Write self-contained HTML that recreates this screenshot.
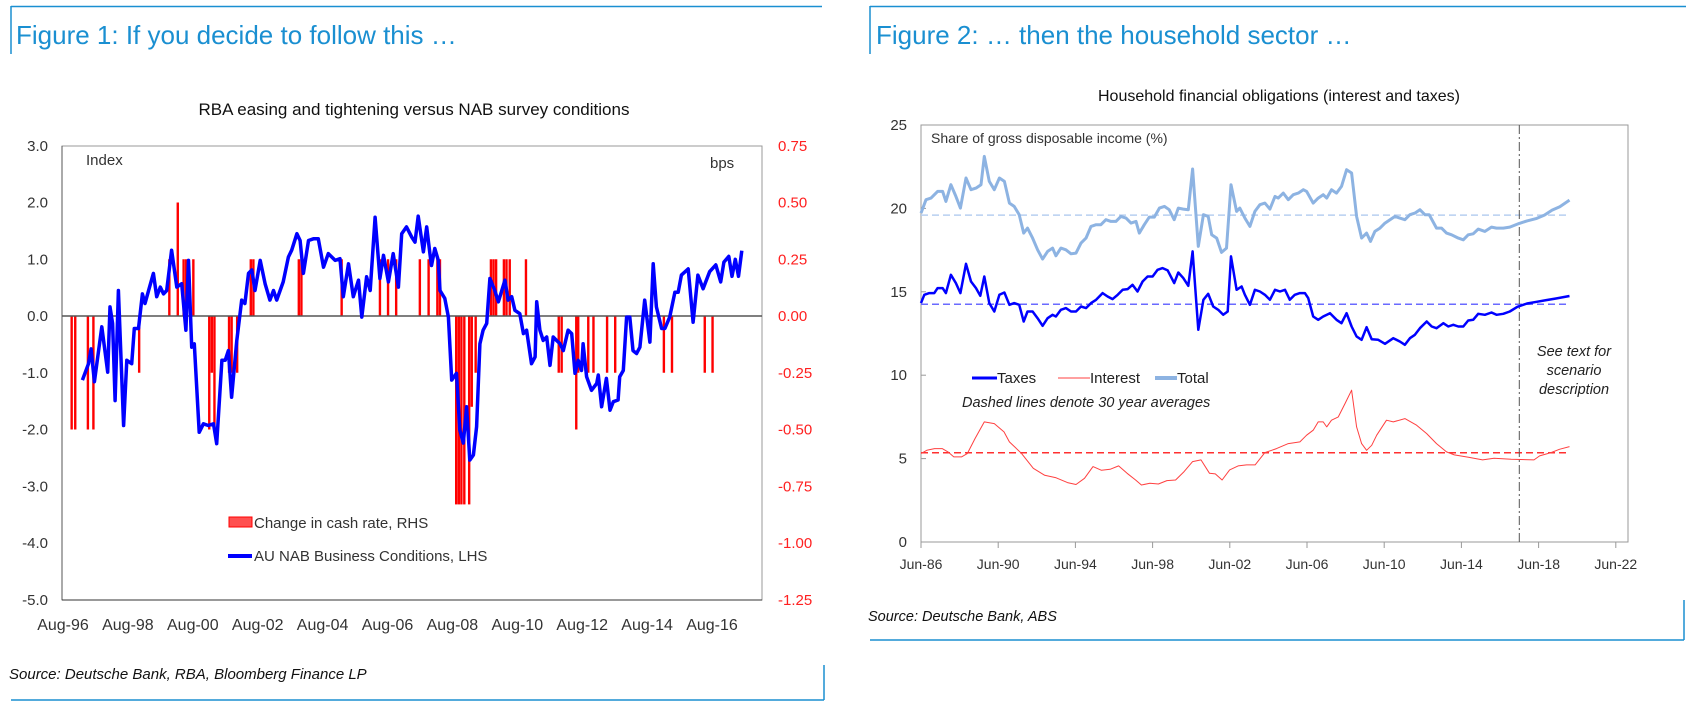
<!DOCTYPE html>
<html><head><meta charset="utf-8"><style>
html,body{margin:0;padding:0;background:#fff;}
svg{display:block;}
text{font-family:"Liberation Sans",sans-serif;}
.nar{font-family:"Liberation Sans Narrow","Liberation Sans",sans-serif;}
</style></head><body>
<svg id="svg" width="1692" height="705" viewBox="0 0 1692 705" xmlns="http://www.w3.org/2000/svg">
<g>
<line x1="11" y1="6.5" x2="822" y2="6.5" stroke="#1a8fd1" stroke-width="1.5"/>
<line x1="11" y1="6" x2="11" y2="54" stroke="#1a8fd1" stroke-width="1.5"/>
<text x="16" y="44" font-size="26" fill="#1a8fd1">Figure 1: If you decide to follow this …</text>
<text x="414" y="115" font-size="17" fill="#111" text-anchor="middle">RBA easing and tightening versus NAB survey conditions</text>
<rect x="62" y="146" width="700" height="454" fill="none" stroke="#999" stroke-width="1"/>
<line x1="62" y1="146" x2="62" y2="600" stroke="#555"/>
<line x1="62" y1="600" x2="762" y2="600" stroke="#333"/>
<text x="86" y="165" font-size="15" fill="#333">Index</text>
<text x="710" y="168" font-size="15" fill="#333">bps</text>
<g id="c1"></g>
<rect x="229" y="517" width="23" height="10" fill="#ff5050" stroke="#ff0000"/>
<text x="254" y="528" font-size="15" fill="#333" class="nar">Change in cash rate, RHS</text>
<line x1="228" y1="556" x2="252" y2="556" stroke="#0000ff" stroke-width="4"/>
<text x="254" y="561" font-size="15" fill="#333" class="nar">AU NAB Business Conditions, LHS</text>
<text x="9" y="679" font-size="15" font-style="italic" fill="#111" class="nar">Source: Deutsche Bank, RBA, Bloomberg Finance LP</text>
<line x1="11" y1="700" x2="824" y2="700" stroke="#1a8fd1" stroke-width="1.5"/>
<line x1="824" y1="665" x2="824" y2="700" stroke="#1a8fd1" stroke-width="1.5"/>
</g>
<g>
<line x1="870" y1="6.5" x2="1686" y2="6.5" stroke="#1a8fd1" stroke-width="1.5"/>
<line x1="870" y1="6" x2="870" y2="54" stroke="#1a8fd1" stroke-width="1.5"/>
<text x="876" y="44" font-size="26" fill="#1a8fd1">Figure 2: … then the household sector …</text>
<text x="1279" y="101" font-size="16" fill="#111" text-anchor="middle">Household financial obligations (interest and taxes)</text>
<rect x="921" y="125" width="707" height="417" fill="none" stroke="#999"/>
<text x="931" y="143" font-size="14" fill="#333">Share of gross disposable income (%)</text>
<g id="c2"></g>
<line x1="972" y1="378" x2="997" y2="378" stroke="#0000ff" stroke-width="3"/>
<text x="997" y="383" font-size="15" fill="#222">Taxes</text>
<line x1="1058" y1="378" x2="1090" y2="378" stroke="#ff4040" stroke-width="1"/>
<text x="1090" y="383" font-size="15" fill="#222">Interest</text>
<line x1="1155" y1="378" x2="1177" y2="378" stroke="#8db3e2" stroke-width="4"/>
<text x="1177" y="383" font-size="15" fill="#222">Total</text>
<text x="962" y="407" font-size="14.5" font-style="italic" fill="#222">Dashed lines denote 30 year averages</text>
<text font-size="14.5" font-style="italic" fill="#222" text-anchor="middle"><tspan x="1574" y="356">See text for</tspan><tspan x="1574" y="375">scenario</tspan><tspan x="1574" y="394">description</tspan></text>
<text x="868" y="621" font-size="14.5" font-style="italic" fill="#111">Source: Deutsche Bank, ABS</text>
<line x1="870" y1="640" x2="1684" y2="640" stroke="#1a8fd1" stroke-width="1.5"/>
<line x1="1684" y1="600" x2="1684" y2="640" stroke="#1a8fd1" stroke-width="1.5"/>
</g>
</svg>
<script>
// ---------- Chart 1 data ----------
const nabYears=[1997.18,1997.37,1997.45,1997.55,1997.78,1997.96,1998.03,1998.11,1998.19,1998.29,1998.45,1998.55,1998.70,1998.78,1998.91,1999.03,1999.11,1999.22,1999.37,1999.47,1999.58,1999.68,1999.78,1999.93,2000.09,2000.24,2000.37,2000.45,2000.55,2000.63,2000.78,2000.91,2001.06,2001.22,2001.32,2001.48,2001.58,2001.68,2001.78,2001.94,2002.09,2002.19,2002.30,2002.40,2002.50,2002.66,2002.81,2002.96,2003.07,2003.17,2003.37,2003.53,2003.63,2003.79,2003.89,2003.99,2004.15,2004.30,2004.45,2004.61,2004.76,2004.97,2005.12,2005.22,2005.38,2005.53,2005.69,2005.79,2005.94,2006.05,2006.20,2006.35,2006.46,2006.61,2006.76,2006.92,2007.02,2007.17,2007.33,2007.43,2007.53,2007.69,2007.79,2007.89,2007.94,2008.04,2008.15,2008.20,2008.35,2008.46,2008.56,2008.71,2008.81,2008.92,2009.02,2009.12,2009.23,2009.33,2009.43,2009.53,2009.64,2009.74,2009.89,2010.00,2010.20,2010.30,2010.41,2010.51,2010.66,2010.77,2010.87,2011.02,2011.13,2011.18,2011.28,2011.38,2011.49,2011.59,2011.69,2011.79,2011.90,2012.00,2012.15,2012.26,2012.36,2012.46,2012.56,2012.61,2012.72,2012.87,2013.03,2013.08,2013.18,2013.33,2013.44,2013.54,2013.69,2013.74,2013.85,2013.95,2014.05,2014.15,2014.26,2014.36,2014.51,2014.67,2014.77,2014.87,2015.03,2015.13,2015.28,2015.44,2015.54,2015.64,2015.85,2016.00,2016.15,2016.31,2016.51,2016.70,2016.85,2016.95,2017.10,2017.20,2017.30,2017.40,2017.50];
const nabValues=[-1.13,-0.84,-0.58,-1.16,-0.19,-0.99,0.16,-0.13,-1.49,0.45,-1.93,-0.78,-0.84,-0.22,-0.22,0.39,0.22,0.45,0.75,0.34,0.51,0.39,0.45,1.16,0.51,0.57,-0.25,0.98,-0.55,-0.49,-2.05,-1.90,-1.93,-1.90,-2.25,-0.78,-0.78,-0.61,-1.43,-0.43,0.28,0.22,0.75,0.81,0.45,0.98,0.57,0.28,0.45,0.28,0.60,1.04,1.16,1.45,1.33,0.75,1.33,1.36,1.36,0.86,1.10,0.98,1.01,0.34,0.92,0.34,0.63,-0.02,0.69,0.45,1.74,0.66,1.07,0.60,1.10,0.51,1.45,1.57,1.39,1.30,1.76,1.13,1.57,1.10,0.89,1.19,0.98,0.45,0.31,-0.02,-1.13,-1.01,-2.01,-2.24,-1.60,-2.54,-2.45,-1.95,-0.49,-0.25,-0.13,0.66,0.45,0.25,0.63,0.28,0.34,0.10,0.04,-0.31,-0.25,-0.84,-0.72,0.25,-0.25,-0.43,-0.37,-0.87,-0.37,-0.43,-0.49,-0.61,-0.25,-0.31,-1.01,-0.78,-0.96,-0.49,-1.07,-1.31,-1.19,-1.04,-1.60,-1.10,-1.66,-1.51,-1.48,-1.07,-0.96,-0.02,-0.02,-0.61,-0.66,-0.55,0.28,-0.46,0.92,0.16,-0.22,-0.22,-0.02,0.42,0.42,0.72,0.83,-0.11,0.72,0.48,0.78,0.90,0.60,0.95,1.05,0.70,1.00,0.70,1.15];
const rateYears=[1996.85,1996.96,1997.35,1997.52,1998.93,1999.86,2000.12,2000.30,2000.38,2000.60,2001.09,2001.17,2001.25,2001.70,2001.78,2001.95,2002.37,2002.45,2003.85,2003.93,2005.17,2006.35,2006.60,2006.85,2007.58,2007.85,2008.12,2008.20,2008.70,2008.78,2008.86,2008.95,2009.10,2009.18,2009.30,2009.77,2009.85,2009.93,2010.17,2010.25,2010.35,2010.85,2011.86,2011.95,2012.40,2012.46,2012.77,2012.93,2013.35,2013.60,2015.10,2015.35,2016.36,2016.60];
const rateValues=[-0.5,-0.5,-0.5,-0.5,-0.25,0.25,0.5,0.25,0.25,0.25,-0.5,-0.25,-0.5,-0.25,-0.25,-0.25,0.25,0.25,0.25,0.25,0.25,0.25,0.25,0.25,0.25,0.25,0.25,0.25,-0.83,-0.83,-0.83,-0.83,-0.83,-0.4,-0.25,0.25,0.25,0.25,0.25,0.25,0.25,0.25,-0.25,-0.25,-0.5,-0.25,-0.25,-0.25,-0.25,-0.25,-0.25,-0.25,-0.25,-0.25];
const leftTicks=[3,2,1,0,-1,-2,-3,-4,-5];
const leftTickLabels=["3.0","2.0","1.0","0.0","-1.0","-2.0","-3.0","-4.0","-5.0"];
const rightTickLabels=["0.75","0.50","0.25","0.00","-0.25","-0.50","-0.75","-1.00","-1.25"];
const xTickYears1=[1996.583,1998.583,2000.583,2002.583,2004.583,2006.583,2008.583,2010.583,2012.583,2014.583,2016.583];
const xTickLabels1=["Aug-96","Aug-98","Aug-00","Aug-02","Aug-04","Aug-06","Aug-08","Aug-10","Aug-12","Aug-14","Aug-16"];

// ---------- Chart 2 data ----------
const totYears=[1986.50,1986.76,1987.02,1987.36,1987.62,1987.79,1988.05,1988.31,1988.54,1988.83,1989.09,1989.35,1989.61,1989.78,1990.04,1990.30,1990.56,1990.82,1991.08,1991.33,1991.59,1991.82,1992.02,1992.28,1992.54,1992.80,1993.06,1993.32,1993.49,1993.75,1994.01,1994.27,1994.53,1994.79,1995.05,1995.31,1995.57,1995.82,1996.08,1996.34,1996.60,1996.86,1997.12,1997.38,1997.64,1997.81,1998.07,1998.33,1998.59,1998.85,1999.11,1999.36,1999.62,1999.83,2000.09,2000.35,2000.57,2000.87,2001.13,2001.38,2001.56,2001.82,2002.07,2002.33,2002.56,2002.85,2003.02,2003.28,2003.54,2003.80,2004.06,2004.32,2004.58,2004.84,2005.01,2005.27,2005.53,2005.79,2006.05,2006.31,2006.48,2006.82,2007.08,2007.34,2007.52,2007.77,2008.03,2008.29,2008.55,2008.81,2009.07,2009.33,2009.59,2009.79,2010.02,2010.28,2010.54,2010.80,2011.06,2011.31,2011.57,2011.83,2012.09,2012.35,2012.61,2012.83,2013.21,2013.47,2013.73,2013.99,2014.34,2014.60,2014.85,2015.11,2015.37,2015.72,2016.06,2016.32,2016.67,2017.01,2017.50,2017.90,2018.40,2018.80,2019.20,2019.60,2020.10];
const totValues=[19.72,20.52,20.62,21.02,21.02,20.42,21.42,20.72,20.02,21.82,21.12,21.22,21.42,23.12,21.62,21.12,21.82,21.62,20.32,20.12,19.62,18.52,18.82,18.22,17.52,16.96,17.42,17.62,17.16,17.62,17.52,17.28,17.32,17.92,18.22,18.92,19.02,19.02,19.32,19.22,19.22,19.52,19.42,19.12,19.22,18.52,19.02,19.48,19.48,20.02,20.12,19.92,19.32,20.02,19.96,19.92,22.36,17.72,19.62,19.52,18.42,18.22,17.36,17.62,21.42,19.82,20.02,19.42,18.92,19.82,20.22,20.32,19.96,20.72,20.62,20.92,20.52,20.82,20.92,21.12,21.02,20.32,20.62,20.82,20.62,21.12,20.92,21.32,22.32,22.12,19.52,18.22,18.52,18.02,18.62,18.82,19.12,19.32,19.52,19.42,19.32,19.62,19.72,19.92,19.62,19.62,18.82,18.82,18.52,18.42,18.22,18.12,18.42,18.48,18.76,18.62,18.88,18.82,18.82,18.88,19.10,19.25,19.40,19.60,19.90,20.10,20.50];
const taxYears=[1986.50,1986.67,1986.93,1987.19,1987.36,1987.62,1987.79,1988.05,1988.31,1988.54,1988.83,1989.09,1989.35,1989.57,1989.78,1990.04,1990.30,1990.56,1990.82,1991.08,1991.33,1991.59,1991.82,1992.02,1992.28,1992.54,1992.80,1993.06,1993.32,1993.49,1993.75,1994.01,1994.27,1994.53,1994.79,1995.05,1995.31,1995.57,1995.91,1996.17,1996.43,1996.69,1996.95,1997.21,1997.46,1997.72,1997.98,1998.24,1998.50,1998.76,1999.02,1999.28,1999.62,1999.83,2000.09,2000.35,2000.57,2000.87,2001.13,2001.38,2001.64,2001.90,2002.16,2002.39,2002.56,2002.85,2003.11,2003.28,2003.54,2003.80,2004.06,2004.32,2004.58,2004.84,2005.10,2005.36,2005.61,2005.87,2006.13,2006.39,2006.56,2006.82,2007.08,2007.34,2007.69,2008.03,2008.29,2008.55,2008.81,2009.07,2009.33,2009.59,2009.85,2010.19,2010.54,2010.97,2011.31,2011.57,2011.83,2012.09,2012.35,2012.70,2012.96,2013.21,2013.56,2013.82,2014.08,2014.34,2014.60,2014.85,2015.11,2015.37,2015.72,2016.06,2016.32,2016.67,2017.01,2017.40,2017.90,2018.40,2018.90,2019.40,2020.10];
const taxValues=[14.32,14.82,14.92,14.92,15.22,15.22,14.92,16.02,15.52,14.92,16.68,15.62,15.22,14.76,15.92,14.32,13.82,14.82,14.96,14.22,14.32,14.22,13.22,13.82,13.82,13.42,12.96,13.42,13.62,13.52,13.92,14.02,13.82,13.82,14.12,14.02,14.32,14.52,14.92,14.72,14.56,14.82,15.12,15.16,15.42,15.02,15.62,15.92,15.92,16.32,16.42,16.28,15.52,16.16,15.82,15.36,17.42,12.72,14.52,14.88,14.12,13.92,13.62,13.82,17.12,15.12,15.32,14.82,14.22,15.12,15.02,14.82,14.52,15.12,15.02,15.12,14.52,14.82,14.92,14.92,14.62,13.52,13.32,13.52,13.72,13.32,13.12,13.72,12.92,12.32,12.12,12.88,12.16,12.12,11.88,12.22,12.02,11.82,12.22,12.42,12.82,13.22,12.92,12.82,13.12,12.92,13.02,12.92,12.92,13.28,13.32,13.68,13.62,13.76,13.62,13.68,13.82,14.10,14.30,14.40,14.50,14.60,14.75];
const intYears=[1986.50,1986.80,1987.20,1987.60,1987.90,1988.20,1988.60,1988.90,1989.30,1989.78,1990.30,1990.80,1991.08,1991.70,1992.32,1992.91,1993.50,1994.09,1994.53,1994.97,1995.41,1995.85,1996.30,1996.74,1997.18,1997.62,1997.92,1998.36,1998.80,1999.24,1999.69,2000.13,2000.57,2001.01,2001.45,2001.75,2002.10,2002.49,2002.93,2003.37,2003.81,2004.32,2004.92,2005.53,2006.13,2006.48,2006.82,2007.08,2007.34,2007.52,2007.77,2008.12,2008.47,2008.81,2009.07,2009.33,2009.59,2009.85,2010.11,2010.62,2010.97,2011.57,2012.18,2012.70,2013.21,2013.73,2014.13,2014.87,2015.60,2016.19,2017.08,2018.26,2018.55,2019.14,2019.58,2020.10];
const intValues=[5.3,5.5,5.6,5.6,5.4,5.1,5.1,5.3,6.2,7.2,7.1,6.6,6.0,5.32,4.42,4.0,3.85,3.56,3.45,3.82,4.52,4.3,4.36,4.56,4.12,3.72,3.42,3.52,3.48,3.68,3.72,4.22,4.82,4.92,4.12,4.08,3.72,4.32,4.56,4.62,4.62,5.36,5.6,5.9,6.0,6.4,6.7,7.2,7.2,6.9,7.3,7.5,8.3,9.1,6.9,5.9,5.5,5.8,6.4,7.3,7.2,7.4,7.0,6.5,5.9,5.4,5.22,5.08,4.92,5.02,4.96,4.92,5.16,5.36,5.56,5.72];
const averages=[19.6,14.25,5.35];
const yTicks2=[0,5,10,15,20,25];
const yTickLabels2=["0","5","10","15","20","25"];
const xTickYears2=[1986.5,1990.5,1994.5,1998.5,2002.5,2006.5,2010.5,2014.5,2018.5,2022.5];
const xTickLabels2=["Jun-86","Jun-90","Jun-94","Jun-98","Jun-02","Jun-06","Jun-10","Jun-14","Jun-18","Jun-22"];
const scenarioYear=2017.5;

const NS="http://www.w3.org/2000/svg";
function mk(tag,attrs,parent){const e=document.createElementNS(NS,tag);for(const k in attrs)e.setAttribute(k,attrs[k]);parent.appendChild(e);return e;}

// Chart 1 axes
const c1=document.getElementById('c1');
const x1=y=>63+(y-1996.583)*32.45;
const yL=v=>316-v*56.75;
const yR=v=>316-v*227;
leftTicks.forEach((t,i)=>{
  const e=mk('text',{x:48,y:yL(t)+5,'font-size':15,fill:'#333','text-anchor':'end',class:'nar'},c1);e.textContent=leftTickLabels[i];
  
  
  const r=mk('text',{x:778,y:yL(t)+5,'font-size':15,fill:'#ff2020',class:'nar'},c1);r.textContent=rightTickLabels[i];
  
  
});
xTickYears1.forEach((t,i)=>{
  const e=mk('text',{x:x1(t),y:630,'font-size':16,fill:'#333','text-anchor':'middle',class:'nar'},c1);e.textContent=xTickLabels1[i];
  
  
});
rateYears.forEach((t,i)=>{
  const v=rateValues[i];const y0=yR(0),y1=yR(v);
  const b=mk('rect',{x:x1(t)-1.2,y:Math.min(y0,y1),width:2.4,height:Math.abs(y1-y0),fill:'#ff0000'},c1);
  
  
});
mk('line',{x1:62,y1:yL(0),x2:762,y2:yL(0),stroke:'#555','stroke-width':1.5},c1);
const nab=mk('polyline',{points:nabYears.map((t,i)=>x1(t).toFixed(1)+','+yL(nabValues[i]).toFixed(1)).join(' '),fill:'none',stroke:'#0000ff','stroke-width':3.5,'stroke-linejoin':'round'},c1);



// Chart 2
const c2=document.getElementById('c2');
const x2=y=>921+(y-1986.5)*19.3;
const y2=v=>542-v*16.68;
yTicks2.forEach((t,i)=>{
  const e=mk('text',{x:907,y:y2(t)+5,'font-size':15,fill:'#333','text-anchor':'end'},c2);e.textContent=yTickLabels2[i];
  
  
  mk('line',{x1:921,y1:y2(t),x2:926,y2:y2(t),stroke:'#999'},c2);
});
xTickYears2.forEach((t,i)=>{
  mk('line',{x1:x2(t),y1:542,x2:x2(t),y2:548,stroke:'#999'},c2);
  const e=mk('text',{x:x2(t),y:569,'font-size':14,fill:'#333','text-anchor':'middle'},c2);e.textContent=xTickLabels2[i];
  
  
});
const avgColors=['#b8cff0','#6a6aff','#ff3030'];
averages.forEach((a,i)=>{
  const l=mk('line',{x1:921,y1:y2(a),x2:x2(2020.1),y2:y2(a),stroke:avgColors[i],'stroke-width':1.5,'stroke-dasharray':'7,4'},c2);
  
  
});
const vl=mk('line',{x1:x2(scenarioYear),y1:125,x2:x2(scenarioYear),y2:542,stroke:'#555','stroke-width':1,'stroke-dasharray':'9,3,2,3'},c2);


function series(ys,vs,color,w,name){
  const p=mk('polyline',{points:ys.map((t,i)=>x2(t).toFixed(1)+','+y2(vs[i]).toFixed(1)).join(' '),fill:'none',stroke:color,'stroke-width':w,'stroke-linejoin':'round'},c2);
  
  
}
series(intYears,intValues,'#ff4040',1,'interest-line');
series(totYears,totValues,'#8db3e2',3,'total-line');
series(taxYears,taxValues,'#0000ff',2.5,'taxes-line');
</script>
</body></html>
